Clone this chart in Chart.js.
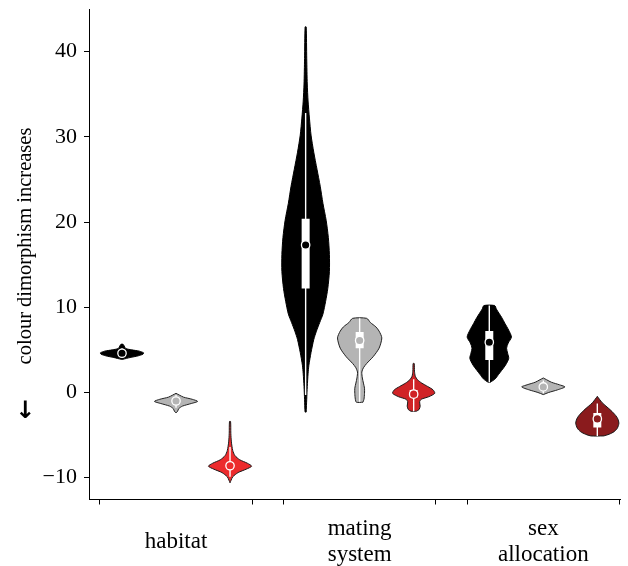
<!DOCTYPE html>
<html>
<head>
<meta charset="utf-8">
<script src="https://cdn.jsdelivr.net/npm/chart.js@4.4.0/dist/chart.umd.min.js"></script>
<style>
  html, body { margin: 0; padding: 0; background: #fff; }
  #c { display: block; }
</style>
</head>
<body>
<canvas id="c" width="628" height="566"></canvas>
<script>
// categories and tick labels
const groupLabels = ['habitat', ['mating', 'system'], ['sex', 'allocation']];
const yTicks = [-10, 0, 10, 20, 30, 40];

// violin outlines: [value, half width], bottom to top
// one profile per group: habitat, mating system, sex allocation
const blackDensity = [
  [[3.9,0.02],[4.1,0.15],[4.3,0.30],[4.5,0.39],[4.65,0.40],[4.85,0.32],[5.0,0.18],[5.15,0.07],[5.35,0.05],[5.65,0.02]],
  [[-2.3,0.01],[-0.8,0.02],[0.7,0.03],[2.2,0.045],[3.2,0.06],[4.7,0.10],[6.2,0.15],[7.2,0.20],[8.2,0.26],[9.2,0.32],
   [10.7,0.37],[12.2,0.41],[14.2,0.44],[16.2,0.44],[18.2,0.42],[20.2,0.38],[22.2,0.32],[24.2,0.27],[26.2,0.21],
   [28.2,0.15],[30.2,0.10],[32.2,0.07],[34.2,0.045],[36.2,0.03],[39.2,0.02],[42.9,0.01]],
  [[1.2,0.02],[1.6,0.11],[2.1,0.17],[2.6,0.23],[3.2,0.30],[4.0,0.36],[4.6,0.34],[5.2,0.32],[5.8,0.35],[6.5,0.41],
   [7.3,0.36],[8.1,0.29],[8.8,0.23],[9.3,0.18],[9.8,0.13],[10.2,0.10]]
];
const greyDensity = [
  [[-2.4,0.0],[-2.2,0.03],[-1.9,0.05],[-1.6,0.12],[-1.3,0.28],[-1.05,0.40],[-0.8,0.30],[-0.55,0.14],[-0.3,0.06],[-0.1,0.0]],
  [[-1.15,0.06],[-0.8,0.08],[-0.1,0.09],[0.5,0.09],[1.1,0.07],[1.7,0.05],[2.4,0.04],[2.9,0.07],[3.4,0.13],[4.2,0.25],
   [5.2,0.36],[6.4,0.41],[7.2,0.36],[7.7,0.30],[8.2,0.20],[8.7,0.13]],
  [[-0.25,0.0],[0.0,0.10],[0.3,0.26],[0.65,0.40],[0.9,0.30],[1.2,0.15],[1.5,0.06],[1.7,0.0]]
];
const redDensity = [
  [[-10.6,0.0],[-10.3,0.02],[-9.9,0.05],[-9.4,0.15],[-9.0,0.30],[-8.65,0.40],[-8.3,0.32],[-7.9,0.18],[-7.4,0.09],
   [-6.8,0.05],[-5.8,0.025],[-4.8,0.015],[-3.4,0.01]],
  [[-2.2,0.05],[-2.0,0.10],[-1.6,0.12],[-1.1,0.11],[-0.8,0.14],[-0.5,0.28],[-0.1,0.39],[0.3,0.36],[0.7,0.26],
   [1.1,0.15],[1.5,0.07],[1.9,0.03],[2.5,0.015],[3.4,0.01]],
  [[-5.1,0.12],[-4.9,0.22],[-4.6,0.31],[-4.2,0.37],[-3.6,0.40],[-3.1,0.38],[-2.7,0.34],[-2.1,0.25],[-1.6,0.16],
   [-1.2,0.09],[-0.8,0.04],[-0.45,0.0]]
];

// summary stats per group
const blackMedians = [4.6, 17.3, 5.9];
const greyMedians = [-1.0, 6.1, 0.65];
const redMedians = [-8.6, -0.2, -3.1];
const blackBoxes = [[4.4, 4.8], [12.2, 20.4], [3.8, 7.2]];
const greyBoxes = [[-1.2, -0.8], [5.2, 7.1], [0.5, 0.9]];
const redBoxes = [[-8.9, -8.3], [-0.6, 0.3], [-4.1, -2.4]];
const blackWhiskers = [[4.1, 5.2], [-0.3, 32.8], [1.2, 10.2]];
const greyWhiskers = [[-1.8, -0.3], [-1.1, 8.7], [-0.1, 1.4]];
const redWhiskers = [[-9.9, -6.4], [-2.2, 1.55], [-5.1, -1.3]];

// styling
const FONT = '"Liberation Serif", "Times New Roman", serif';
const greyFill = '#b4b4b4';
const redFills = ['#ec2b2d', '#d02326', '#8a1b1d'];
const GROUP_STEP = 3.4, HALF_GROUP = 1.41;
const groupCentres = groupLabels.map((_, g) => 2 + g * GROUP_STEP);
const xPos = (g, k) => 1 + g * GROUP_STEP + k;

const series = [
  { dens: blackDensity, med: blackMedians, box: blackBoxes, wh: blackWhiskers, fill: () => '#000', line: '#000' },
  { dens: greyDensity, med: greyMedians, box: greyBoxes, wh: greyWhiskers, fill: () => greyFill, line: '#222' },
  { dens: redDensity, med: redMedians, box: redBoxes, wh: redWhiskers, fill: g => redFills[g], line: '#1a1a1a' }
];

function violinPoints(cx, prof) {
  const right = prof.map(([y, w]) => ({ x: cx + w, y: y }));
  const left = prof.slice().reverse().map(([y, w]) => ({ x: cx - w, y: y }));
  return right.concat(left, [right[0]]);
}

const datasets = [];
const whiskerPts = [], boxPts = [], medPts = [], medColors = [];
series.forEach((s, k) => {
  groupLabels.forEach((_, g) => {
    const cx = xPos(g, k);
    datasets.push({
      type: 'line', data: violinPoints(cx, s.dens[g]),
      backgroundColor: s.fill(g), borderColor: s.line, borderWidth: 1,
      fill: 'shape', tension: 0.25, pointRadius: 0, order: 4
    });
    whiskerPts.push({ x: cx, y: s.wh[g][0] }, { x: cx, y: s.wh[g][1] }, { x: cx, y: null });
    boxPts.push({ x: cx, y: s.box[g][0] }, { x: cx, y: s.box[g][1] }, { x: cx, y: null });
    medPts.push({ x: cx, y: s.med[g] });
    medColors.push(s.fill(g));
  });
});
datasets.push({ type: 'line', data: whiskerPts, borderColor: '#fff', borderWidth: 1.4, spanGaps: false,
  pointRadius: 0, fill: false, order: 3 });
datasets.push({ type: 'line', data: boxPts, borderColor: '#fff', borderWidth: 8, borderCapStyle: 'butt',
  spanGaps: false, pointRadius: 0, fill: false, order: 2 });
datasets.push({ type: 'scatter', data: medPts, pointRadius: 4.2, pointBackgroundColor: medColors,
  pointBorderColor: '#fff', pointBorderWidth: 1.3, order: 1 });

const xTickValues = [];
groupCentres.forEach(c => xTickValues.push(c - HALF_GROUP, c, c + HALF_GROUP));

const yTitle = {
  id: 'yTitle',
  afterDraw(chart) {
    const ctx = chart.ctx;
    ctx.save();
    ctx.fillStyle = '#000';
    ctx.font = '20.5px ' + FONT;
    ctx.textAlign = 'center';
    ctx.textBaseline = 'middle';
    ctx.translate(26, 246);
    ctx.rotate(-Math.PI / 2);
    ctx.fillText('colour dimorphism increases', 0, 0);
    ctx.restore();
    ctx.save();
    ctx.font = 'bold 24px "DejaVu Sans", sans-serif';
    ctx.textAlign = 'center';
    ctx.textBaseline = 'middle';
    ctx.fillText('\u2193', 25, 412);
    ctx.restore();
  }
};

new Chart(document.getElementById('c'), {
  type: 'line',
  data: { datasets },
  plugins: [yTitle],
  options: {
    responsive: false,
    animation: false,
    devicePixelRatio: 1,
    layout: { padding: { left: 0, right: 8, top: 9, bottom: 0 } },
    plugins: { legend: { display: false }, tooltip: { enabled: false } },
    scales: {
      x: {
        type: 'linear', min: 0.389, max: 10.22, offset: false,
        afterFit: s => { s.height = 66.5; s.paddingLeft = 0; s.paddingRight = 0; },
        afterBuildTicks: s => { s.ticks = xTickValues.map(v => ({ value: v })); },
        grid: {
          drawOnChartArea: false, tickLength: 5, tickWidth: 1,
          tickColor: c => groupCentres.some(m => Math.abs(m - c.tick.value) < 1e-6) ? 'rgba(0,0,0,0)' : '#000'
        },
        border: { color: '#000', width: 1 },
        ticks: {
          autoSkip: false, maxRotation: 0, padding: 24, crossAlign: 'center', color: '#000',
          font: { family: FONT, size: 23, lineHeight: 1.15 },
          callback: v => {
            const i = groupCentres.findIndex(m => Math.abs(m - v) < 1e-6);
            return i >= 0 ? groupLabels[i] : '';
          }
        }
      },
      y: {
        type: 'linear', min: -12.56, max: 45,
        afterFit: s => { s.width = 89; s.paddingTop = 0; s.paddingBottom = 0; },
        afterBuildTicks: s => { s.ticks = yTicks.map(v => ({ value: v })); },
        grid: { drawOnChartArea: false, tickLength: 5, tickColor: '#000' },
        border: { color: '#000', width: 1 },
        ticks: {
          padding: 7, color: '#000', font: { family: FONT, size: 22 },
          callback: v => String(v).replace('-', '\u2212')
        }
      }
    }
  }
});
</script>
</body>
</html>
